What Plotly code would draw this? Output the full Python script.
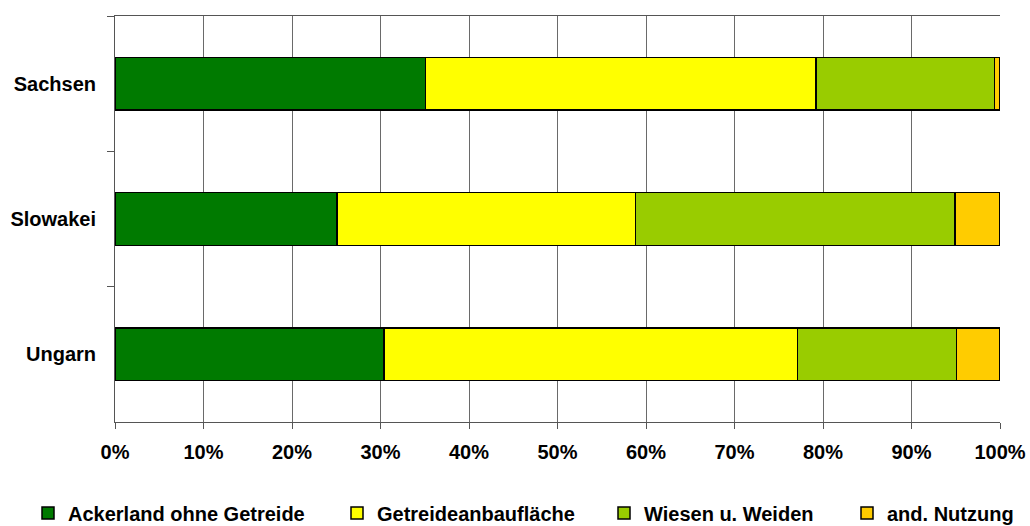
import plotly.graph_objects as go

categories = ["Sachsen", "Slowakei", "Ungarn"]
series_names = ["Ackerland ohne Getreide", "Getreideanbaufläche", "Wiesen u. Weiden", "and. Nutzung"]
ackerland = [35.1, 25.1, 30.4]
getreide = [44.1, 33.7, 46.7]
wiesen = [20.2, 36.1, 18.0]
andere = [0.6, 5.1, 4.9]
colors = ["#007A00", "#FFFF00", "#99CC00", "#FFCC00"]
tick_vals = [0, 10, 20, 30, 40, 50, 60, 70, 80, 90, 100]
tick_labels = ["0%", "10%", "20%", "30%", "40%", "50%", "60%", "70%", "80%", "90%", "100%"]

FONT = "Arial, 'Liberation Sans', sans-serif"
FS = 20

fig = go.Figure()
values = [ackerland, getreide, wiesen, andere]
legend_ids = ["legend", "legend2", "legend3", "legend4"]
for name, vals, col, lg in zip(series_names, values, colors, legend_ids):
    fig.add_trace(go.Bar(
        y=categories, x=vals, name=name, orientation="h",
        marker=dict(color=col, line=dict(color="#000000", width=1.5)),
        legend=lg,
    ))

legend_x = [28, 337, 604, 847]
legends = {}
for lg, lx in zip(legend_ids, legend_x):
    legends[lg] = dict(
        x=lx / 1030, orientation="h", xref="container", yref="container",
        yanchor="middle", y=13 / 526, xanchor="left",
        font=dict(family=FONT, size=FS, color="#000000", weight="bold"),
        bgcolor="rgba(0,0,0,0)", borderwidth=0,
    )

fig.update_layout(
    barmode="stack",
    bargap=0.61,
    width=1030, height=526,
    margin=dict(l=115, r=30, t=16, b=104, autoexpand=False),
    paper_bgcolor="white", plot_bgcolor="white",
    font=dict(family=FONT, size=FS, color="#000000"),
    showlegend=True,
    **legends,
)
fig.update_xaxes(
    range=[0, 100], tickmode="array", tickvals=tick_vals, ticktext=tick_labels,
    showgrid=True, gridcolor="#6a6a6a", gridwidth=1,
    showline=True, linecolor="#555555", linewidth=1, mirror=True,
    ticks="outside", ticklen=6, tickcolor="#555555",
    ticklabelstandoff=6, automargin=False,
    tickfont=dict(family=FONT, size=FS, color="#000000", weight="bold"),
    zeroline=False, fixedrange=True,
)
fig.update_yaxes(
    categoryorder="array", categoryarray=categories, autorange="reversed",
    showgrid=False, showline=True, linecolor="#555555", linewidth=1,
    ticks="outside", ticklen=7, tickcolor="#555555", tickson="boundaries",
    ticklabelstandoff=14, automargin=False,
    tickfont=dict(family=FONT, size=FS, color="#000000", weight="bold"),
    fixedrange=True,
)

fig.write_html("out.html")
